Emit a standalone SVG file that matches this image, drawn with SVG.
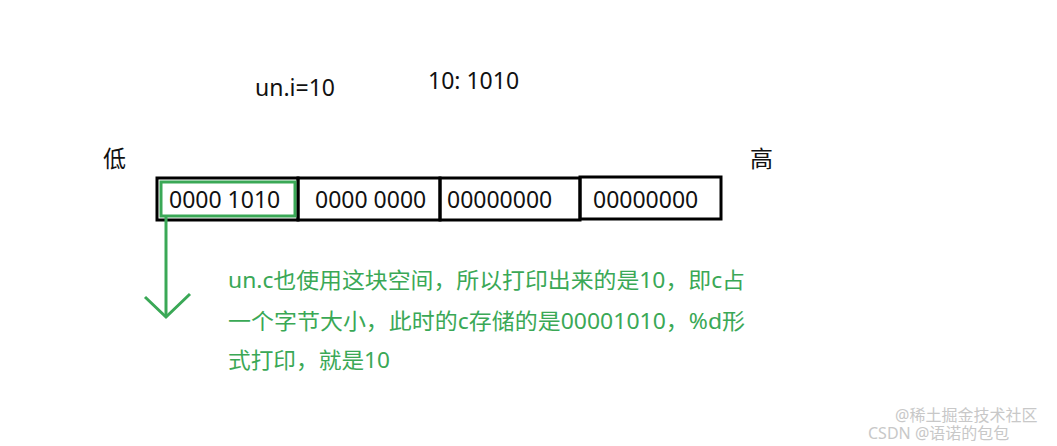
<svg xmlns="http://www.w3.org/2000/svg" width="1057" height="446" viewBox="0 0 1057 446">
<style>
.t{font-family:"Noto Sans","Noto Sans CJK SC",sans-serif;font-size:23px;fill:#111}
.g{font-family:"Noto Sans","Noto Sans CJK SC",sans-serif;font-size:22px;fill:#3aa856}
.box{fill:none;stroke:#000;stroke-width:3}
.wm{font-family:"Noto Sans","Noto Sans CJK SC",sans-serif;font-size:16px;fill:#c8c8c8}
</style>
<rect width="1057" height="446" fill="#fff"/>
<g id="labels">
<text class="t" x="255" y="96">un.i=10</text>
<text class="t" x="428" y="89">10: 1010</text>
<text class="t" x="103" y="167">低</text>
<text class="t" x="750" y="167">高</text>
</g>
<g id="byte1"><rect class="box" x="157" y="178" width="141" height="42"/><text class="t" x="169" y="208">0000 1010</text></g>
<g id="byte2"><rect class="box" x="298" y="178" width="142" height="42"/><text class="t" x="315" y="208">0000 0000</text></g>
<g id="byte3"><rect class="box" x="440" y="178" width="140" height="42"/><text class="t" x="447" y="208">00000000</text></g>
<g id="byte4"><rect class="box" x="580" y="177" width="141" height="42"/><text class="t" x="593" y="208">00000000</text></g>
<g id="highlight"><rect x="161" y="182" width="134" height="34" fill="none" stroke="#3aa856" stroke-width="3"/></g>
<g id="connectors" fill="none" stroke="#3aa856" stroke-width="3">
<path d="M166 216 V316"/>
<path d="M145 297 L166 317 L190 294"/>
</g>
<g id="note">
<text class="g" x="228" y="288" textLength="517" lengthAdjust="spacingAndGlyphs">un.c也使用这块空间，所以打印出来的是10，即c占</text>
<text class="g" x="228" y="329" textLength="517" lengthAdjust="spacingAndGlyphs">一个字节大小，此时的c存储的是00001010，%d形</text>
<text class="g" x="228" y="368" textLength="162" lengthAdjust="spacingAndGlyphs">式打印，就是10</text>
</g>
<g id="watermark">
<text class="wm" x="895" y="421">@稀土掘金技术社区</text>
<text class="wm" x="868" y="439">CSDN @语诺的包包</text>
</g>
</svg>
